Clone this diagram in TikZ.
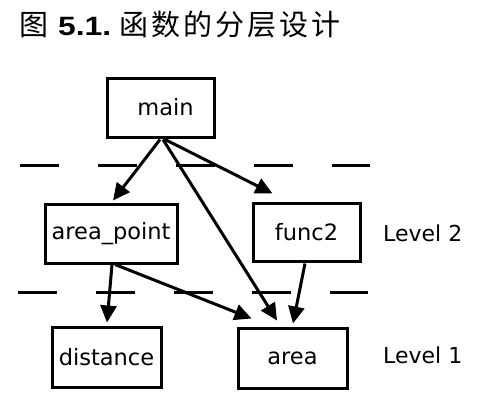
\documentclass[tikz,border=0pt]{standalone}
\usepackage{fontspec}
\usepackage{graphicx}
\setmainfont{DejaVu Sans}
\newfontfamily\cjkfont{Noto Sans CJK SC}
\newfontfamily\libsans{Liberation Sans}
\usetikzlibrary{arrows.meta,calc}
\newcommand\cjkgap{\hspace{3pt}}
\begin{document}
\begin{tikzpicture}[x=1pt,y=-1pt,
  fnbox/.style={draw,line width=3pt,inner sep=0pt,font=\fontsize{22.5}{27}\selectfont},
  lvl/.style={anchor=west,inner sep=0pt,font=\fontsize{22}{26}\selectfont},
  sep/.style={line width=3pt,dash pattern=on 39pt off 39pt},
  call/.style={line width=3pt,-{Triangle[length=17pt,width=16pt]}}]
\useasboundingbox (0,0) rectangle (490,415);
\node[anchor=base west,inner sep=0pt] (title) at (19,35)
  {{\cjkfont\fontsize{29}{34}\selectfont 图}\hspace{10pt}\scalebox{1.2}[1]{\libsans\bfseries\fontsize{26.5}{30}\selectfont 5.1.}\hspace{8pt}{\cjkfont\fontsize{29}{34}\selectfont 函\cjkgap 数\cjkgap 的\cjkgap 分\cjkgap 层\cjkgap 设\cjkgap 计}};
\node[fnbox,minimum width=107pt,minimum height=59pt] (main) at (160.5,107.5) {\hspace{10pt}main};
\node[fnbox,minimum width=132pt,minimum height=59pt] (ap) at (111,233.5) {area\_point};
\node[fnbox,minimum width=107pt,minimum height=58pt] (f2) at (306.5,232) {func2};
\node[fnbox,minimum width=109pt,minimum height=60pt] (dist) at (106.5,357) {distance};
\node[fnbox,minimum width=109pt,minimum height=60pt] (area) at (292.5,358) {area};
\node[lvl] (l2) at (383,233) {Level 2};
\node[lvl] (l1) at (383,355) {Level 1};
\coordinate (s1a) at (20,165);
\coordinate (s1b) at (370,165);
\coordinate (s2a) at (18,292);
\coordinate (s2b) at (368,292);
\draw[sep] (s1a) -- (s1b);
\draw[sep] (s2a) -- (s2b);
\draw[call] ($(main.south)+(-0.5,1)$) -- ($(ap.north)+(2,-2)$);
\draw[call] ($(main.south)+(4.5,1)$) -- ($(f2.north west)+(21,-8)$);
\draw[call] ($(main.south)+(2.5,1)$) -- ($(area.north)+(-15.5,-6)$);
\draw[call] ($(ap.south)+(1,0)$) -- ($(dist.north)+(0.5,-3)$);
\draw[call] ($(ap.south)+(4,0)$) -- ($(area.north west)+(15,-8)$);
\draw[call] ($(f2.south)+(-1.5,1)$) -- ($(area.north)+(0.5,-3)$);
\end{tikzpicture}
\end{document}
